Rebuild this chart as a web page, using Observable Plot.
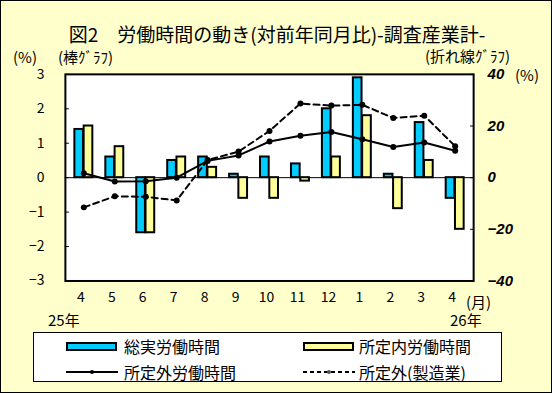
<!DOCTYPE html>
<html><head><meta charset="utf-8">
<script src="https://cdn.jsdelivr.net/npm/d3@7"></script>
<script src="https://cdn.jsdelivr.net/npm/@observablehq/plot@0.6"></script>
<style>
html,body{margin:0;padding:0;background:#FFFFCC;}
#wrap{position:relative;width:552px;height:393px;background:#FFFFCC;box-sizing:border-box;border:1px solid #000;overflow:hidden;font-family:"Noto Sans CJK JP","Noto Sans",sans-serif;color:#000;}
.t{position:absolute;white-space:nowrap;line-height:15px;}
#chart{position:absolute;left:-1px;top:-1px;}
#legend{position:absolute;left:32px;top:331px;width:469px;height:50px;background:#fff;border:1px solid #000;box-sizing:border-box;}
.sw{position:absolute;box-sizing:border-box;border:2px solid #000;height:9px;width:51px;}
.lg{position:absolute;font-size:16px;line-height:20px;white-space:nowrap;}
</style></head>
<body>
<div id="wrap">
  <div class="t" style="left:0;width:552px;text-align:center;top:23px;font-size:19px;line-height:20px;">図2　労働時間の動き(対前年同月比)-調査産業計-</div>
  <div class="t" style="left:12px;top:48px;font-size:15px;">(%)</div>
  <div class="t" style="left:57px;top:48px;font-size:15px;">(棒ｸﾞﾗﾌ)</div>
  <div class="t" style="left:424px;top:47px;font-size:15px;">(折れ線ｸﾞﾗﾌ)</div>
  <div class="t" style="left:514px;top:66px;font-size:15px;">(%)</div>
  <div class="t" style="left:465px;top:293px;font-size:15px;">(月)</div>
  <div class="t" style="left:47px;top:311px;font-size:15px;">25年</div>
  <div class="t" style="left:449px;top:311px;font-size:15px;">26年</div>
  <div id="chart"></div>
  <div id="legend"></div>
</div>
<script>
// Data
const periods = ["25-4","25-5","25-6","25-7","25-8","25-9","25-10","25-11","25-12","26-1","26-2","26-3","26-4"];
const monthLabels = ["4","5","6","7","8","9","10","11","12","1","2","3","4"];
const totalHours = [1.4, 0.6, -1.6, 0.5, 0.6, 0.1, 0.6, 0.4, 2.0, 2.9, 0.1, 1.6, -0.6];
const scheduledHours = [1.5, 0.9, -1.6, 0.6, 0.3, -0.6, -0.6, -0.1, 0.6, 1.8, -0.9, 0.5, -1.5];
const overtimeHours = [1.7, -1.5, -1.4, 0.0, 6.5, 8.6, 14.0, 16.2, 17.7, 14.9, 11.9, 13.6, 10.4];
const overtimeMfg = [-11.5, -7.2, -7.4, -8.8, 6.8, 10.1, 18.1, 28.7, 27.9, 28.2, 23.1, 24.0, 12.2];
const leftTicks = [-3, -2, -1, 0, 1, 2, 3];
const rightTicks = [-40, -20, 0, 20, 40];
const seriesNames = ["総実労働時間", "所定内労働時間", "所定外労働時間", "所定外(製造業)"];
const colors = {total: "#00CCFF", scheduled: "#FFFF99"};

const leftMax = 3, rightMax = 40;
const toLeft = v => v * leftMax / rightMax;
const rows = periods.map((p, i) => ({
  period: p, label: monthLabels[i],
  total: totalHours[i], scheduled: scheduledHours[i],
  overtime: overtimeHours[i], mfg: overtimeMfg[i]
}));
const labelOf = new Map(rows.map(r => [r.period, r.label]));

const font = '"Noto Sans CJK JP","Noto Sans",sans-serif';
const chart = Plot.plot({
  width: 552, height: 312,
  marginLeft: 65, marginRight: 78, marginTop: 74, marginBottom: 31,
  style: {background: "transparent", fontFamily: font, fontSize: "14px", color: "#000", overflow: "visible"},
  x: {type: "band", domain: periods, padding: 0, axis: null},
  y: {domain: [-leftMax, leftMax], axis: null},
  marks: [
    Plot.frame({fill: "white"}),
    Plot.ruleY([0], {stroke: "#000", strokeWidth: 1}),
    Plot.barY(rows, {x: "period", y: "total", fill: colors.total, stroke: "#000", strokeWidth: 2, insetLeft: 6.5, insetRight: 15.8}),
    Plot.barY(rows, {x: "period", y: "scheduled", fill: colors.scheduled, stroke: "#000", strokeWidth: 2, insetLeft: 15.8, insetRight: 6.5}),
    Plot.line(rows, {x: "period", y: d => toLeft(d.mfg), stroke: "#000", strokeWidth: 2, strokeDasharray: "6,4"}),
    Plot.dot(rows, {x: "period", y: d => toLeft(d.mfg), fill: "#000", r: 3}),
    Plot.line(rows, {x: "period", y: d => toLeft(d.overtime), stroke: "#000", strokeWidth: 2}),
    Plot.dot(rows, {x: "period", y: d => toLeft(d.overtime), fill: "#000", r: 3}),
    Plot.frame({stroke: "#000", strokeWidth: 2}),
    Plot.axisY(leftTicks, {anchor: "left", label: null, tickSize: -4, tickPadding: 25, fontSize: 14}),
    Plot.axisY(rightTicks.map(toLeft), {anchor: "right", label: null, tickSize: -4, tickPadding: 18,
      tickFormat: d => String(Math.round(d * rightMax / leftMax)).replace("-", "\u2212"),
      fontStyle: "italic", fontWeight: "bold", fontSize: 15, fontFamily: '"Liberation Sans",Arial,sans-serif'}),
    Plot.axisX({label: null, tickSize: 0, tickPadding: 11, dx: -3, tickFormat: d => labelOf.get(d), fontSize: 14})
  ]
});
document.getElementById("chart").appendChild(chart);

// Legend
const lg = document.getElementById("legend");
function addText(x, y, s){ const d=document.createElement("div"); d.className="lg"; d.style.left=x+"px"; d.style.top=y+"px"; d.textContent=s; lg.appendChild(d); }
function addSwatch(x, y, c){ const d=document.createElement("div"); d.className="sw"; d.style.left=x+"px"; d.style.top=y+"px"; d.style.background=c; lg.appendChild(d); }
function addLine(x, y, dash){
  const ns="http://www.w3.org/2000/svg";
  const s=document.createElementNS(ns,"svg"); s.setAttribute("width",52); s.setAttribute("height",10);
  s.style.position="absolute"; s.style.left=x+"px"; s.style.top=y+"px";
  const l=document.createElementNS(ns,"line"); l.setAttribute("x1",0); l.setAttribute("x2",52); l.setAttribute("y1",5); l.setAttribute("y2",5);
  l.setAttribute("stroke","#000"); l.setAttribute("stroke-width",2); if(dash) l.setAttribute("stroke-dasharray","4,3");
  const c=document.createElementNS(ns,"circle"); c.setAttribute("cx",26); c.setAttribute("cy",5); c.setAttribute("r",2); c.setAttribute("fill", dash ? "#555" : "#000");
  s.appendChild(l); s.appendChild(c); lg.appendChild(s);
}
addSwatch(32, 9, colors.total); addText(90, 3, seriesNames[0]);
addSwatch(269, 9, colors.scheduled); addText(325, 3, seriesNames[1]);
addLine(32, 34, false); addText(90, 29, seriesNames[2]);
addLine(269, 34, true); addText(325, 29, seriesNames[3]);
</script>
</body></html>
